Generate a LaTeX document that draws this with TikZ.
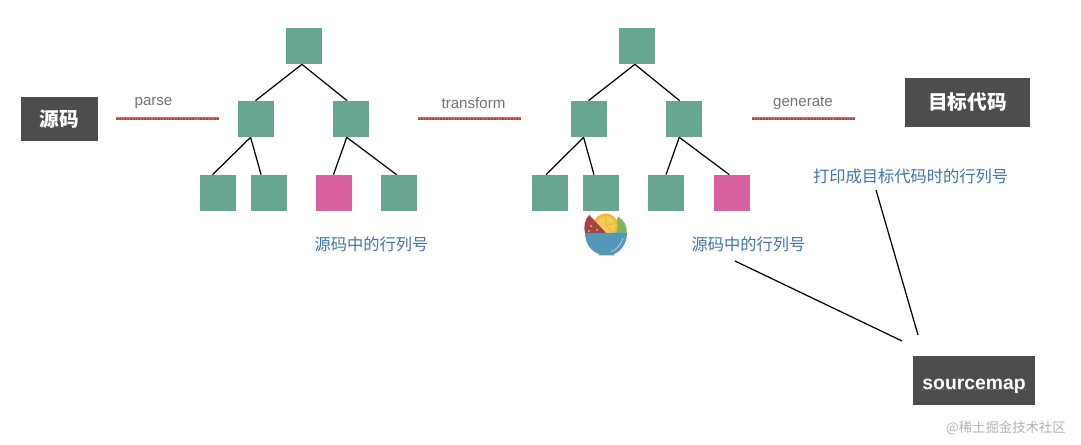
\documentclass[tikz,border=0pt]{standalone}
\usepackage{fontspec}
\setmainfont{Liberation Sans}
\newfontfamily\cjk{Noto Sans CJK SC}
\definecolor{leafgreen}{HTML}{67A78F}
\definecolor{leafpink}{HTML}{D9609F}
\definecolor{boxgray}{HTML}{4D4D4D}
\definecolor{notered}{HTML}{D0705C}
\definecolor{darkred}{HTML}{B8403A}
\definecolor{noteblue}{HTML}{3F74AD}
\definecolor{bowlblue}{HTML}{5597B8}
\definecolor{melon}{HTML}{A5453F}
\definecolor{rind}{HTML}{EFB63C}
\definecolor{pulp}{HTML}{F5CB55}
\definecolor{sage}{HTML}{7DB560}
\tikzset{
	leaf/.style={fill=leafgreen, minimum size=0.72cm, inner sep=0},
	marked/.style={leaf, fill=leafpink},
	stage/.style={fill=boxgray, text=white, inner sep=0, font=\cjk\fontsize{11.2}{13}\selectfont\bfseries},
	note/.style={text=noteblue, inner sep=0, font=\cjk\fontsize{9.25}{11}\selectfont},
	steplabel/.style={text=black!55, inner sep=0, font=\fontsize{8.6}{10}\selectfont},
	redline/.style={notered, line width=0.06cm, postaction={draw, darkred, line width=0.025cm, dash pattern=on 1pt off 0.6pt}},
	edge/.style={black, line width=0.7pt}
}
\begin{document}
\begin{tikzpicture}[x=0.02cm, y=-0.02cm]
	\useasboundingbox (0,0) rectangle (1081,445);
	\node [leaf] (rootA) at (303.5,46) {};
	\node [leaf] (leftA) at (255.5,119) {};
	\node [leaf] (rightA) at (351,119) {};
	\node [leaf] (aa) at (217.5,193) {};
	\node [leaf] (ab) at (268.5,193) {};
	\node [marked] (ac) at (333.5,193) {};
	\node [leaf] (ad) at (398.5,193) {};
	\node [leaf] (rootB) at (636.5,46) {};
	\node [leaf] (leftB) at (588.5,119) {};
	\node [leaf] (rightB) at (683.5,119) {};
	\node [leaf] (ba) at (550,193) {};
	\node [leaf] (bb) at (601,193) {};
	\node [leaf] (bc) at (666,193) {};
	\node [marked] (bd) at (731.5,193) {};
	\draw [edge] (rootA.265) -- (leftA.north);
	\draw [edge] (rootA.265) -- (rightA.102);
	\draw [edge] (leftA.255) -- (aa.105);
	\draw [edge] (leftA.255) -- (ab.112);
	\draw [edge] (rightA.257) -- (ac.north);
	\draw [edge] (rightA.257) -- (ad.96);
	\draw [edge] (rootB.265) -- (leftB.north);
	\draw [edge] (rootB.265) -- (rightB.102);
	\draw [edge] (leftB.255) -- (ba.102);
	\draw [edge] (leftB.255) -- (bb.111);
	\draw [edge] (rightB.257) -- (bc.north);
	\draw [edge] (rightB.257) -- (bd.97);
	\node [stage, minimum width=1.54cm, minimum height=0.88cm] (source) at (59.5,119) {源码};
	\node [stage, minimum width=2.5cm, minimum height=0.98cm] (target) at (967.5,102.5) {目标代码};
	\node [stage, minimum width=2.44cm, minimum height=0.98cm, text height=13.8pt, text depth=3pt, font=\fontsize{11}{13}\selectfont\bfseries] (map) at (974,380.5) {sourcemap};
	\draw [notered, densely dotted, line width=0.5pt] (922,389.5) -- (1025,389.5);
	\node [steplabel] (parse) at (153.5,103) {parse};
	\node [steplabel] (transform) at (473.5,103) {transform};
	\node [steplabel] (generate) at (803,103) {generate};
	\coordinate (parseL) at (116,119);
	\coordinate (parseR) at (219,119);
	\coordinate (transformL) at (418,119);
	\coordinate (transformR) at (521,119);
	\coordinate (generateL) at (752,119);
	\coordinate (generateR) at (855,119);
	\draw [redline] (parseL) -- (parseR);
	\draw [redline] (transformL) -- (transformR);
	\draw [redline] (generateL) -- (generateR);
	\node [note] (lineA) at (371.5,244) {源码中的行列号};
	\node [note] (lineB) at (748.5,244) {源码中的行列号};
	\node [note] (lineC) at (910.5,176) {打印成目标代码时的行列号};
	\coordinate (fromB) at (735,261);
	\coordinate (toB) at (902,341);
	\coordinate (fromC) at (876,190);
	\coordinate (toC) at (918,335);
	\draw [edge] (fromB) -- (toB);
	\draw [edge] (fromC) -- (toC);
	% bowl
	\fill [sage] (618,216.5) .. controls (624,220) and (628,227) .. (626.5,234) -- (612,234) -- cycle;
	\fill [rind] (605.7,225.7) circle (12.3);
	\fill [pulp] (605.7,225.7) circle (9.8);
	\draw [rind, line width=0.6pt] (605.7,225.7) -- (605.7,216) (605.7,225.7) -- (615,223) (605.7,225.7) -- (613,233);
	\fill [melon] (589.3,215) .. controls (584.5,219) and (583,228) .. (585.5,234) -- (607,234) -- cycle;
	\fill [white!80!melon] (591,226) circle (0.8) (597,230) circle (0.8) (589,231) circle (0.8);
	\fill [bowlblue] (585,233) -- (627,233) .. controls (627,244) and (620,252) .. (614,254) -- (614,255.5) -- (599,255.5) -- (599,254) .. controls (592,252) and (585,244) .. (585,233) -- cycle;
	\draw [white!75!bowlblue, line width=0.3pt] (611,252) .. controls (616,250) and (621,245) .. (623,238);
	\node [text=black!30, inner sep=0, anchor=east, font=\cjk\fontsize{7.6}{9}\selectfont] (mark) at (1066,428) {@稀土掘金技术社区};
\end{tikzpicture}
\end{document}
